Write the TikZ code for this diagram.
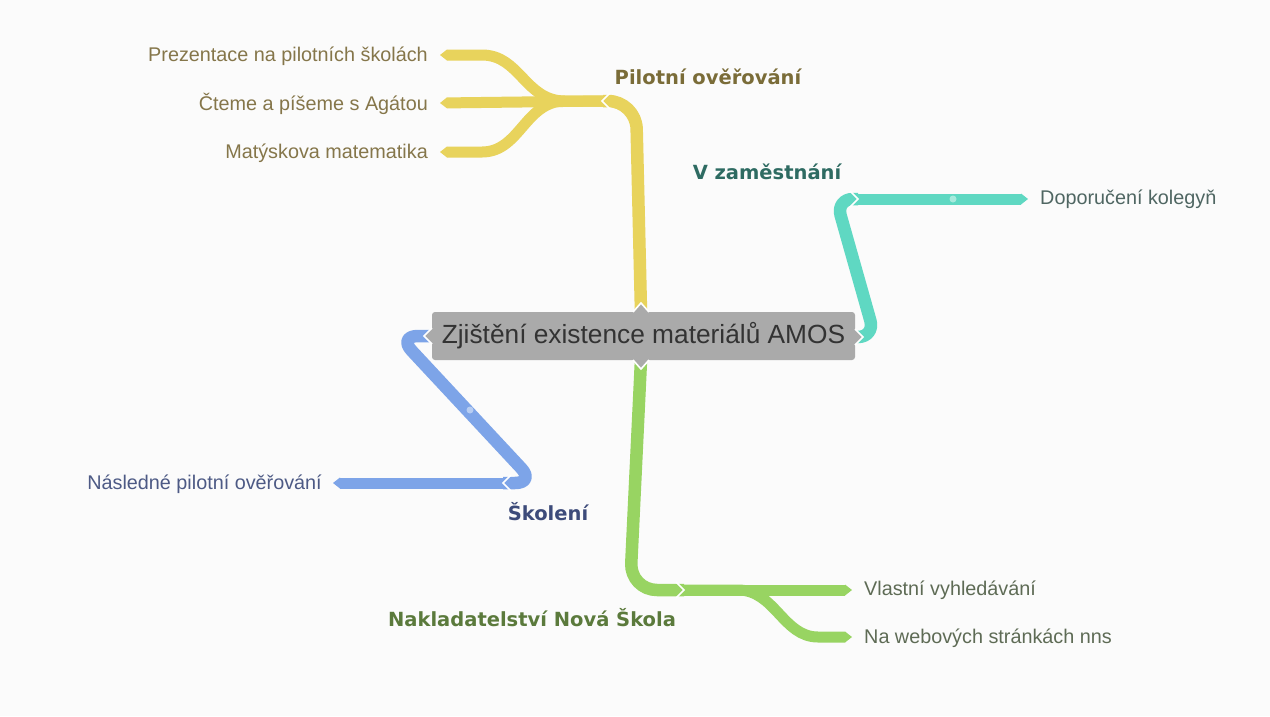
\documentclass[tikz,border=0pt]{standalone}
\usepackage{fontspec}
\setmainfont{Liberation Sans}
\newfontfamily\labfont{DejaVu Sans}
\usetikzlibrary{arrows.meta}
\definecolor{cy}{HTML}{E8D35C}
\definecolor{ct}{HTML}{5FD8C2}
\definecolor{cb}{HTML}{7DA4E8}
\definecolor{cg}{HTML}{98D462}
\definecolor{cbox}{HTML}{AAAAAA}
\definecolor{bg}{HTML}{FBFBFB}
\definecolor{tyl}{HTML}{85764A}
\definecolor{tyb}{HTML}{7A6C38}
\definecolor{ttl}{HTML}{4F6662}
\definecolor{ttb}{HTML}{2E6B62}
\definecolor{tbl}{HTML}{4D5A85}
\definecolor{tbb}{HTML}{3D4B7A}
\definecolor{tgl}{HTML}{5E6B55}
\definecolor{tgb}{HTML}{5B7A3C}
\tikzset{
  trunk/.style={line width=12.5pt, line cap=butt, line join=round, rounded corners=20pt},
  leafline/.style={line width=11pt, line cap=butt, line join=round,
     -{Triangle[length=7pt,width=11pt,line width=0pt]}},
  notch/.style={white, line width=1.6pt, line join=miter},
  leaftext/.style={font=\fontsize{19.8}{22}\selectfont, inner sep=0pt},
  labtext/.style={font=\labfont\bfseries\fontsize{19.5}{22}\selectfont, inner sep=0pt},
  dotmark/.style={circle, inner sep=0pt, minimum size=7pt},
}
\begin{document}
\begin{tikzpicture}[x=1pt,y=-1pt]
\fill[bg] (0,0) rectangle (1270,716);
\useasboundingbox (0,0) rectangle (1270,716);

% coordinates
\coordinate (ytop) at (641,312);
\coordinate (yj) at (603,101);
\coordinate (ya) at (440,55);
\coordinate (yb) at (440,103);
\coordinate (yc) at (440,152);
\coordinate (tr) at (855,337);
\coordinate (tj) at (858,199);
\coordinate (ta) at (1028,199);
\coordinate (bl) at (432,336);
\coordinate (bj) at (503,483);
\coordinate (ba) at (333,483);
\coordinate (gb) at (641,360);
\coordinate (gj) at (684,590);
\coordinate (ga) at (852,590);
\coordinate (gc) at (852,637);

% yellow branch
\draw[trunk, cy, rounded corners=28pt] (ytop) -- (636,101) -- (yj);
\draw[leafline, cy] (yj) -- (yb);
\draw[leafline, cy] (yj) -- (565,101) .. controls (525,101) and (520,55) .. (482,55) -- (ya);
\draw[leafline, cy] (yj) -- (565,101) .. controls (525,101) and (520,152) .. (482,152) -- (yc);
\draw[notch] (610,93) -- (602,101) -- (610,109);

% teal branch
\draw[trunk, ct, rounded corners=17pt] (tr) -- (875,337) -- (836,199) -- (tj);
\draw[leafline, ct] (tj) -- (ta);
\draw[notch] (850,191) -- (858,199) -- (850,207);
\node[dotmark, fill=ct!55!white] (tdot) at (953,199) {};

% blue branch
\draw[trunk, cb] (bl) -- (398,336) -- (535,483) -- (bj);
\draw[leafline, cb] (bj) -- (ba);
\draw[notch] (511,475) -- (503,483) -- (511,491);
\node[dotmark, fill=cb!55!white] (bdot) at (470,410) {};

% green branch
\draw[trunk, cg, rounded corners=27pt] (gb) -- (630,590) -- (gj);
\draw[leafline, cg] (gj) -- (ga);
\draw[leafline, cg] (gj) -- (738,590) .. controls (775,590) and (783,637) .. (818,637) -- (gc);
\draw[notch] (676,582) -- (684,590) -- (676,598);

% central box
\node[fill=cbox, rounded corners=3pt, minimum width=423pt, minimum height=48pt,
      inner sep=0pt, text=black!80, font=\fontsize{26.3}{30}\selectfont] (c) at (643.5,336)
      {Zjištění existence materiálů AMOS};
\fill[cbox] (633,313) -- (641,303) -- (649,313) -- cycle;
\draw[notch] (633,312) -- (641,303) -- (649,312);
\fill[cbox] (633,359) -- (641,369) -- (649,359) -- cycle;
\draw[notch] (633,360) -- (641,369) -- (649,360);
\fill[cbox] (433,328) -- (424,336) -- (433,344) -- cycle;
\draw[notch] (432,328) -- (424,336) -- (432,344);
\fill[cbox] (854,329) -- (863,337) -- (854,345) -- cycle;
\draw[notch] (855,329) -- (863,337) -- (855,345);

% texts
\node[leaftext, text=tyl, anchor=east] (l1) at (428,56) {Prezentace na pilotních školách};
\node[leaftext, text=tyl, anchor=east] (l2) at (428,104) {Čteme a píšeme s Agátou};
\node[leaftext, text=tyl, anchor=east] (l3) at (428,153) {Matýskova matematika};
\node[labtext, text=tyb] (ly) at (708,77) {Pilotní ověřování};

\node[labtext, text=ttb] (lt) at (767,172) {V zaměstnání};
\node[leaftext, text=ttl, anchor=west] (l4) at (1040,199) {Doporučení kolegyň};

\node[labtext, text=tbb] (lb) at (548,512) {Školení};
\node[leaftext, text=tbl, anchor=east] (l5) at (322,484) {Následné pilotní ověřování};

\node[labtext, text=tgb] (lg) at (532,618) {Nakladatelství Nová Škola};
\node[leaftext, text=tgl, anchor=west] (l6) at (864,590) {Vlastní vyhledávání};
\node[leaftext, text=tgl, anchor=west] (l7) at (864,638) {Na webových stránkách nns};
\end{tikzpicture}
\end{document}
